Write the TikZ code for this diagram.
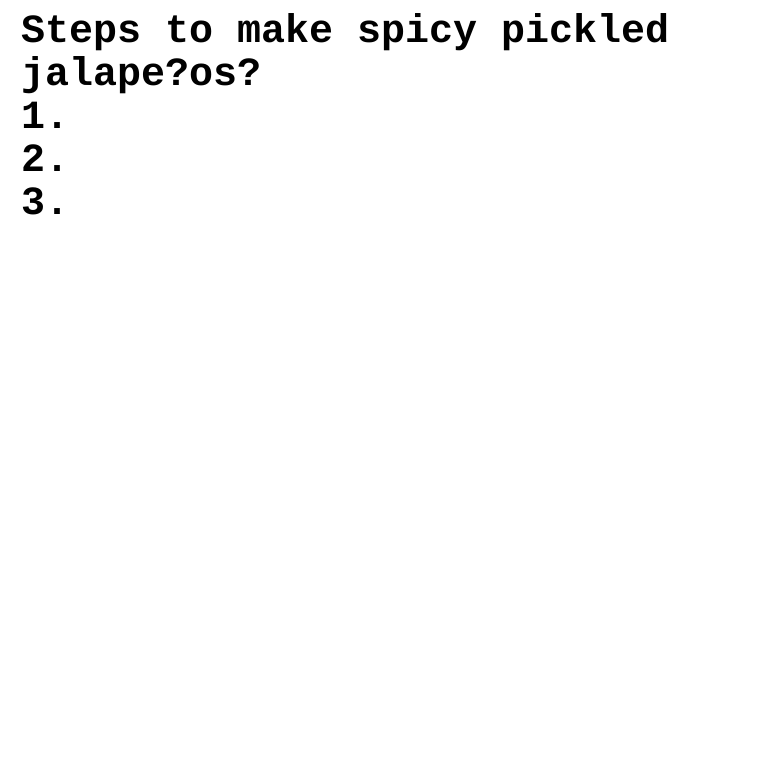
\documentclass[tikz,border=0pt]{standalone}
\usepackage{fontspec}
\setmonofont{Liberation Mono}
\usetikzlibrary{positioning}
\tikzset{
    every node/.style={transform shape},
    recipeline/.style={anchor=base west, inner sep=0pt,
        font=\ttfamily\bfseries\fontsize{40}{42.75}\selectfont},
}

\begin{document}
\begin{tikzpicture}[x=1pt, y=1pt]
    \useasboundingbox[fill=white] (0, 0) rectangle (760, -760);
    \node[recipeline] (head) at (21, -43) {Steps to make spicy pickled};
    \node[recipeline] (headtwo) at (21, -85.75) {jalape?os?};
    \foreach \n in {1, 2, 3}
        \node[recipeline] (step\n) at (21, -85.75 - 42.75*\n) {\n.};
\end{tikzpicture}
\end{document}
